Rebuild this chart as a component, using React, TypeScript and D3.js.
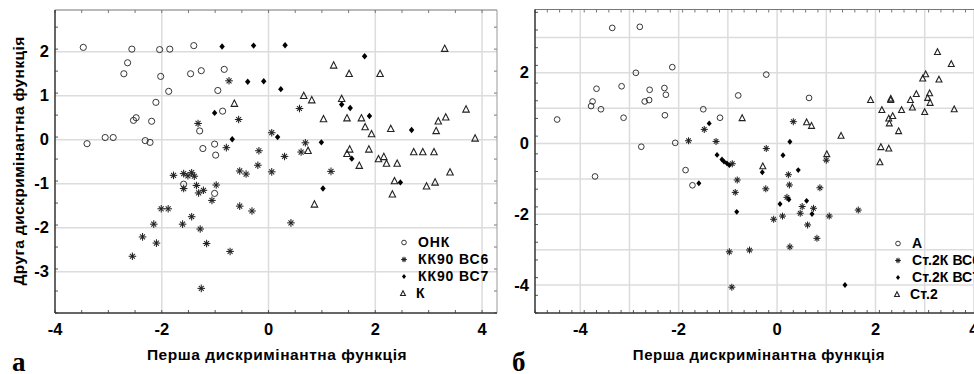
import React, { useEffect, useRef } from 'react';
import * as d3 from 'd3';

// ---- panel а ----
const onk: [number, number][] = [
  [-3.47, 2.1], [-3.4, -0.09], [-3.06, 0.05], [-2.91, 0.05], [-2.71, 1.5], [-2.64, 1.75],
  [-2.56, 2.06], [-2.53, 0.44], [-2.48, 0.5], [-2.31, -0.02], [-2.22, -0.06], [-2.19, 0.42],
  [-2.11, 0.85], [-2.04, 2.05], [-2.02, 1.44], [-1.87, 1.1], [-1.85, 2.06], [-1.46, 1.5],
  [-1.4, 2.14], [-1.29, 0.2], [-1.26, 1.57], [-1.23, -0.2], [-1.01, -0.1], [-0.99, -0.35],
  [-0.95, 1.12], [-0.86, 0.65], [-0.83, 1.6], [-1.59, -1.01], [-1.01, -1.22],
];
const kk90bc6: [number, number][] = [
  [-0.74, 1.34], [-1.32, 0.37], [-0.56, 0.46], [-0.79, -0.18], [-1.78, -0.81], [-1.59, -0.77],
  [-1.51, -0.82], [-1.44, -0.75], [-1.39, -0.83], [-0.54, -0.71], [-0.42, -0.78], [-0.98, -1.03],
  [-1.35, -1.04], [-1.59, -1.11], [-1.31, -1.21], [-1.22, -1.15], [-1.06, -1.38], [-2.01, -1.57],
  [-1.88, -1.57], [-0.54, -1.51], [-2.15, -1.92], [-1.61, -1.92], [-1.44, -1.75], [-1.28, -2.03],
  [-2.36, -2.21], [-2.1, -2.35], [-1.16, -2.36], [-0.72, -2.54], [-2.55, -2.65], [-1.26, -3.38],
  [0.58, 0.71], [0.06, 0.16], [0.69, -0.07], [-0.18, -0.25], [0.61, -0.28], [0.3, -0.38],
  [-0.2, -0.58], [0.06, -0.73], [1.17, -0.72], [-0.31, -1.62], [0.42, -1.89],
];
const kk90bc7: [number, number][] = [
  [-0.87, 2.12], [-0.39, 1.32], [-1.01, 0.61], [-0.68, 0.01], [-0.28, 2.14], [0.31, 2.15],
  [1.8, 1.9], [-0.09, 1.33], [0.23, 1.15], [1.37, 0.8], [1.53, 0.72], [1.89, 0.54],
  [0.17, 0.06], [2.68, 0.22], [0.99, -0.06], [1.56, -0.43], [2.47, -0.97], [1.02, -1.11],
];
const k: [number, number][] = [
  [-0.64, 0.82], [3.3, 2.07], [1.22, 1.69], [1.51, 1.5], [2.09, 1.5], [0.66, 1.0], [0.81, 0.9],
  [1.37, 0.93], [3.7, 0.69], [1.03, 0.47], [1.47, 0.49], [1.74, 0.49], [3.32, 0.51], [3.18, 0.42],
  [1.81, 0.29], [2.29, 0.25], [3.14, 0.2], [1.93, 0.13], [3.87, 0.03], [0.74, -0.25], [1.52, -0.22],
  [1.47, -0.32], [1.88, -0.22], [2.72, -0.28], [2.89, -0.28], [3.1, -0.28], [2.06, -0.44],
  [2.16, -0.39], [2.21, -0.54], [2.41, -0.54], [1.7, -0.59], [3.4, -0.74], [2.36, -0.94],
  [3.12, -0.97], [2.96, -1.06], [2.32, -1.24], [0.86, -1.47],
];

// ---- panel б ----
const a: [number, number][] = [
  [-4.47, 0.68], [-3.35, 3.27], [-2.79, 3.3], [-3.75, 1.19], [-3.78, 1.06], [-3.67, 1.55],
  [-3.58, 0.97], [-3.16, 1.62], [-3.12, 0.73], [-2.87, 2.0], [-2.76, -0.09], [-2.69, 1.19],
  [-2.6, 1.23], [-2.59, 1.52], [-2.29, 1.57], [-2.26, 1.38], [-2.28, 0.8], [-2.13, 2.16],
  [-2.07, 0.02], [-3.7, -0.93], [-1.86, -0.75], [-1.72, -1.18], [-1.5, 0.97], [-1.16, 0.73],
  [-0.79, 1.36], [-0.22, 1.95], [0.65, 1.29],
];
const st2kBc6: [number, number][] = [
  [-1.8, 0.08], [-1.48, 0.4], [-1.24, 0.06], [-0.91, -0.57], [-0.81, -1.03], [0.33, 0.62],
  [-0.22, -0.14], [0.23, -0.88], [1.0, -0.47], [-0.23, -1.28], [0.25, -1.17], [0.87, -1.25],
  [-0.85, -1.38], [0.2, -1.52], [0.51, -1.78], [0.74, -1.83], [0.47, -1.97], [-0.07, -2.14],
  [0.11, -2.05], [1.06, -2.05], [1.65, -1.88], [0.62, -2.3], [0.81, -2.68], [0.26, -2.92],
  [-0.56, -3.01], [-0.97, -3.06], [-0.92, -4.06],
];
const st2kBc7: [number, number][] = [
  [-1.38, 0.57], [-1.22, -0.32], [-1.12, -0.45], [-1.08, -0.51], [-1.02, -0.56], [-0.97, -0.61],
  [-1.59, -1.12], [0.26, 0.05], [0.12, -0.33], [0.43, -0.75], [-0.3, -0.81], [-0.82, -1.93],
  [0.06, -1.71], [0.24, -1.58], [0.6, -1.62], [0.71, -1.99], [1.38, -4.0],
];
const st2: [number, number][] = [
  [-0.71, 0.72], [0.6, 0.6], [0.7, 0.5], [1.3, 0.22], [1.01, -0.3], [-0.29, -0.64], [1.9, 1.23],
  [2.31, 1.23], [2.31, 1.27], [2.13, 0.95], [2.27, 0.71], [2.35, 0.78], [2.28, 0.57], [2.47, 0.35],
  [2.11, -0.1], [2.27, -0.14], [2.09, -0.53], [2.53, 0.95], [2.71, 1.23], [2.75, 1.02], [2.83, 1.4],
  [3.0, 0.89], [3.06, 1.29], [3.1, 1.42], [3.11, 1.15], [2.96, 1.84], [3.02, 1.96], [3.29, 1.81],
  [3.26, 2.59], [3.54, 2.25], [3.6, 0.97],
];

const legendA = ['ОНК', 'КК90 ВС6', 'КК90 ВС7', 'К'];
const legendB = ['А', 'Ст.2К ВС6', 'Ст.2К ВС7', 'Ст.2'];
const xTitle = 'Перша дискримінантна функція';
const yTitle = 'Друга дискримінантна функція';

type Kind = 'circle' | 'star' | 'diamond' | 'triangle';
const kinds: Kind[] = ['circle', 'star', 'diamond', 'triangle'];

const font = '"Liberation Sans", Arial, sans-serif';

function drawMark(g: any, kind: Kind, x: number, y: number, s: number) {
  if (kind === 'circle') {
    g.append('circle').attr('cx', x).attr('cy', y).attr('r', 3.1 * s)
      .attr('fill', 'none').attr('stroke', '#222').attr('stroke-width', 0.9);
  } else if (kind === 'star') {
    const r = 3.8 * s;
    [0, 45, 90, 135].forEach(ang => {
      const t = (ang * Math.PI) / 180;
      const rr = ang % 90 === 0 ? r : r * 0.92;
      g.append('line')
        .attr('x1', x - rr * Math.cos(t)).attr('y1', y - rr * Math.sin(t))
        .attr('x2', x + rr * Math.cos(t)).attr('y2', y + rr * Math.sin(t))
        .attr('stroke', '#222').attr('stroke-width', 1.05);
    });
  } else if (kind === 'diamond') {
    const r = 3.2 * s;
    g.append('path')
      .attr('d', `M${x},${y - r}L${x + r * 0.85},${y}L${x},${y + r}L${x - r * 0.85},${y}Z`)
      .attr('fill', '#000');
  } else {
    const r = 3.6 * s;
    g.append('path')
      .attr('d', `M${x},${y - r}L${x + r * 0.9},${y + r * 0.75}L${x - r * 0.9},${y + r * 0.75}Z`)
      .attr('fill', 'none').attr('stroke', '#222').attr('stroke-width', 1.1);
  }
}

function drawPanel(svg: any, opt: any) {
  const x = d3.scaleLinear().domain(opt.xDomain).range(opt.xRange);
  const y = d3.scaleLinear().domain(opt.yDomain).range(opt.yRange);
  const [x0, x1] = opt.xRange;
  const [y1, y0] = opt.yRange;
  const g = svg.append('g');

  g.append('rect').attr('x', x0).attr('y', y0).attr('width', x1 - x0).attr('height', y1 - y0)
    .attr('fill', '#fff');

  // grid
  opt.xGrid.forEach((v: number) => {
    g.append('line').attr('x1', x(v)).attr('x2', x(v)).attr('y1', y0).attr('y2', y1)
      .attr('stroke', '#dcdcdc').attr('stroke-width', 1.5);
  });
  opt.yGrid.forEach((v: number) => {
    g.append('line').attr('x1', x0).attr('x2', x1).attr('y1', y(v)).attr('y2', y(v))
      .attr('stroke', '#dcdcdc').attr('stroke-width', 1.5);
  });

  // minor ticks (inward)
  d3.range(opt.xDomain[0], opt.xDomain[1], opt.xMinor).forEach((v: number) => {
    const px = x(v);
    g.append('line').attr('x1', px).attr('x2', px).attr('y1', y1).attr('y2', y1 - 3)
      .attr('stroke', '#555');
    g.append('line').attr('x1', px).attr('x2', px).attr('y1', y0).attr('y2', y0 + 3)
      .attr('stroke', '#777');
  });
  d3.range(opt.yDomain[0], opt.yDomain[1], opt.yMinor).forEach((v: number) => {
    const py = y(v);
    g.append('line').attr('x1', x0).attr('x2', x0 + 3).attr('y1', py).attr('y2', py)
      .attr('stroke', '#555');
    g.append('line').attr('x1', x1).attr('x2', x1 - 3).attr('y1', py).attr('y2', py)
      .attr('stroke', '#777');
  });

  // frame
  g.append('line').attr('x1', x0).attr('x2', x1).attr('y1', y0).attr('y2', y0)
    .attr('stroke', '#777').attr('stroke-width', 1.2);
  g.append('line').attr('x1', x1).attr('x2', x1).attr('y1', y0).attr('y2', y1)
    .attr('stroke', '#999').attr('stroke-width', 1);
  g.append('line').attr('x1', x0).attr('x2', x0).attr('y1', y0).attr('y2', y1)
    .attr('stroke', '#333').attr('stroke-width', 1.5);
  g.append('line').attr('x1', x0).attr('x2', x1).attr('y1', y1).attr('y2', y1)
    .attr('stroke', '#333').attr('stroke-width', 1.5);

  // tick labels
  opt.xLabels.forEach((v: number) => {
    g.append('text').attr('x', x(v)).attr('y', 335).attr('text-anchor', 'middle')
      .attr('font-family', font).attr('font-weight', 'bold').attr('font-size', 16.5)
      .text(v < 0 ? `-${Math.abs(v)}` : `${v}`);
  });
  opt.yLabels.forEach((v: number) => {
    g.append('text').attr('x', x0 - 6).attr('y', y(v) + 5.5).attr('text-anchor', 'end')
      .attr('font-family', font).attr('font-weight', 'bold').attr('font-size', 16.5)
      .text(v < 0 ? `-${Math.abs(v)}` : `${v}`);
  });

  // points
  const pts = g.append('g');
  opt.series.forEach((data: [number, number][], i: number) => {
    data.forEach(d => drawMark(pts, kinds[i], x(d[0]), y(d[1]), opt.markScale));
  });

  // legend
  const lg = g.append('g');
  opt.legend.forEach((name: string, i: number) => {
    const ly = opt.legendY + i * 17;
    const mx = kinds[i] === 'triangle' ? opt.legendX - 1 : opt.legendX;
    drawMark(lg, kinds[i], mx, ly - 4.5, 0.75);
    lg.append('text').attr('x', kinds[i] === 'triangle' ? opt.legendX + 12 : opt.legendX + 14)
      .attr('y', ly)
      .attr('font-family', font).attr('font-weight', 'bold').attr('font-size', 14)
      .attr('letter-spacing', opt.legendSpacing)
      .text(name);
  });

  // x title
  g.append('text').attr('x', opt.titleX).attr('y', 360).attr('text-anchor', 'middle')
    .attr('font-family', font).attr('font-weight', 'bold').attr('font-size', opt.titleSize)
    .attr('letter-spacing', 0.55)
    .text(xTitle);

  // panel letter
  g.append('text').attr('x', opt.letterX).attr('y', 371)
    .attr('font-family', '"Liberation Serif", "Times New Roman", serif').attr('font-weight', 'bold')
    .attr('font-size', 27).text(opt.letter);
}

const App = () => {
  const ref = useRef<SVGSVGElement | null>(null);

  useEffect(() => {
    if (!ref.current) return;
    const svg = d3.select(ref.current);
    svg.selectAll('*').remove();

    svg.append('rect').attr('width', 974).attr('height', 374).attr('fill', '#fff');

    drawPanel(svg, {
      xDomain: [-4, 4.28], xRange: [55, 497],
      yDomain: [-3.94, 2.95], yRange: [313, 10],
      xGrid: [-2, 0, 2, 4], yGrid: [-3, -2, -1, 0, 1, 2],
      xLabels: [-4, -2, 0, 2, 4], yLabels: [-3, -2, -1, 0, 1, 2],
      xMinor: 0.5, yMinor: 0.5,
      series: [onk, kk90bc6, kk90bc7, k],
      markScale: 1,
      legend: legendA, legendX: 404, legendY: 247, legendSpacing: 0.9,
      titleX: 277, titleSize: 15.5, letter: 'а', letterX: 12,
    });

    drawPanel(svg, {
      xDomain: [-4.92, 4.5], xRange: [535, 998.5],
      yDomain: [-4.79, 3.79], yRange: [313, 9.5],
      xGrid: d3.range(-4, 5, 1), yGrid: d3.range(-4, 4, 1),
      xLabels: [-4, -2, 0, 2, 4], yLabels: [-4, -2, 0, 2],
      xMinor: 0.25, yMinor: 0.5,
      series: [a, st2kBc6, st2kBc7, st2],
      markScale: 0.92,
      legend: legendB, legendX: 898, legendY: 248, legendSpacing: 0.1,
      titleX: 759, titleSize: 15, letter: 'б', letterX: 512,
    });

    // y title (left panel only)
    svg.append('text')
      .attr('transform', 'translate(24,161) rotate(-90)')
      .attr('text-anchor', 'middle')
      .attr('font-family', font).attr('font-weight', 'bold').attr('font-size', 15.5)
      .attr('letter-spacing', 0.4)
      .text(yTitle);
  }, []);

  return (
    <svg ref={ref} width={974} height={374}
      style={{ position: 'absolute', left: 0, top: 0, display: 'block' }} />
  );
};

export default App;
